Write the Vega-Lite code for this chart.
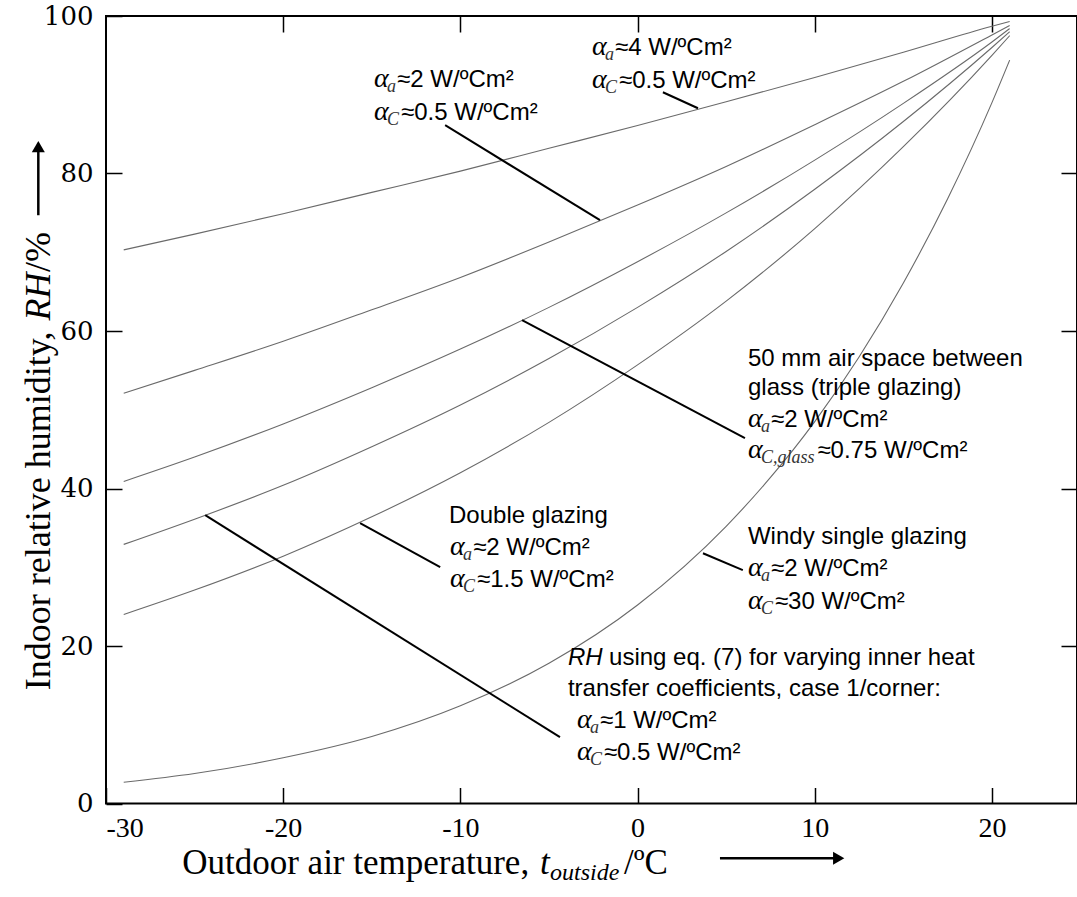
{
  "$schema": "https://vega.github.io/schema/vega-lite/v6.json",
  "width": 971,
  "height": 787.5,
  "autosize": {"type": "none"},
  "padding": {"left": 106, "top": 16, "right": 0, "bottom": 94},
  "background": "white",
  "config": {"view": {"stroke": "black", "strokeWidth": 2}},
  "datasets": {
    "curves": [
      {"c": "c1", "t": -29, "rh": 70.3}, {"c": "c1", "t": -25, "rh": 72.3}, {"c": "c1", "t": -20, "rh": 74.9}, {"c": "c1", "t": -15, "rh": 77.6}, {"c": "c1", "t": -10, "rh": 80.3}, {"c": "c1", "t": -5, "rh": 83.2}, {"c": "c1", "t": 0, "rh": 86.1}, {"c": "c1", "t": 5, "rh": 89.1}, {"c": "c1", "t": 10, "rh": 92.2}, {"c": "c1", "t": 15, "rh": 95.4}, {"c": "c1", "t": 20, "rh": 98.7}, {"c": "c1", "t": 21, "rh": 99.3},
      {"c": "c2", "t": -29, "rh": 52.1}, {"c": "c2", "t": -25, "rh": 55.0}, {"c": "c2", "t": -20, "rh": 58.7}, {"c": "c2", "t": -15, "rh": 62.7}, {"c": "c2", "t": -10, "rh": 66.8}, {"c": "c2", "t": -5, "rh": 71.3}, {"c": "c2", "t": 0, "rh": 76.0}, {"c": "c2", "t": 5, "rh": 80.9}, {"c": "c2", "t": 10, "rh": 86.2}, {"c": "c2", "t": 15, "rh": 91.7}, {"c": "c2", "t": 20, "rh": 97.6}, {"c": "c2", "t": 21, "rh": 98.8},
      {"c": "c3", "t": -29, "rh": 40.9}, {"c": "c3", "t": -25, "rh": 44.0}, {"c": "c3", "t": -20, "rh": 48.2}, {"c": "c3", "t": -15, "rh": 52.8}, {"c": "c3", "t": -10, "rh": 57.7}, {"c": "c3", "t": -5, "rh": 63.0}, {"c": "c3", "t": 0, "rh": 68.8}, {"c": "c3", "t": 5, "rh": 75.0}, {"c": "c3", "t": 10, "rh": 81.7}, {"c": "c3", "t": 15, "rh": 88.9}, {"c": "c3", "t": 20, "rh": 96.7}, {"c": "c3", "t": 21, "rh": 98.4},
      {"c": "c4", "t": -29, "rh": 32.9}, {"c": "c4", "t": -25, "rh": 36.1}, {"c": "c4", "t": -20, "rh": 40.4}, {"c": "c4", "t": -15, "rh": 45.3}, {"c": "c4", "t": -10, "rh": 50.6}, {"c": "c4", "t": -5, "rh": 56.5}, {"c": "c4", "t": 0, "rh": 63.0}, {"c": "c4", "t": 5, "rh": 70.1}, {"c": "c4", "t": 10, "rh": 78.0}, {"c": "c4", "t": 15, "rh": 86.6}, {"c": "c4", "t": 20, "rh": 96.0}, {"c": "c4", "t": 21, "rh": 98.0},
      {"c": "c5", "t": -29, "rh": 24.0}, {"c": "c5", "t": -25, "rh": 27.1}, {"c": "c5", "t": -20, "rh": 31.4}, {"c": "c5", "t": -15, "rh": 36.4}, {"c": "c5", "t": -10, "rh": 42.0}, {"c": "c5", "t": -5, "rh": 48.4}, {"c": "c5", "t": 0, "rh": 55.7}, {"c": "c5", "t": 5, "rh": 63.8}, {"c": "c5", "t": 10, "rh": 73.0}, {"c": "c5", "t": 15, "rh": 83.4}, {"c": "c5", "t": 20, "rh": 95.0}, {"c": "c5", "t": 21, "rh": 97.5},
      {"c": "c6", "t": -29, "rh": 2.7}, {"c": "c6", "t": -25, "rh": 3.8}, {"c": "c6", "t": -20, "rh": 5.8}, {"c": "c6", "t": -15, "rh": 8.5}, {"c": "c6", "t": -10, "rh": 12.4}, {"c": "c6", "t": -5, "rh": 17.8}, {"c": "c6", "t": 0, "rh": 25.2}, {"c": "c6", "t": 5, "rh": 35.2}, {"c": "c6", "t": 7.5, "rh": 41.4}, {"c": "c6", "t": 10, "rh": 48.5}, {"c": "c6", "t": 12.5, "rh": 56.7}, {"c": "c6", "t": 15, "rh": 66.1}, {"c": "c6", "t": 17.5, "rh": 76.8}, {"c": "c6", "t": 20, "rh": 89.0}, {"c": "c6", "t": 21, "rh": 94.4}
    ],
    "leaders": [
      {"t1": 1.43, "rh1": 90.32, "t2": 3.41, "rh2": 88.29},
      {"t1": -10.86, "rh1": 86.13, "t2": -2.12, "rh2": 74.07},
      {"t1": -6.52, "rh1": 61.37, "t2": 6.06, "rh2": 46.39},
      {"t1": 3.69, "rh1": 31.78, "t2": 5.94, "rh2": 29.63},
      {"t1": -15.66, "rh1": 35.59, "t2": -11.14, "rh2": 30.01},
      {"t1": -24.40, "rh1": 36.61, "t2": -4.38, "rh2": 8.42}
    ],
    "plain": [
      {"t": -1.27, "rh": 95.02, "text": "≈4 W/ºCm²"},
      {"t": -1.05, "rh": 90.83, "text": "≈0.5 W/ºCm²"},
      {"t": -13.57, "rh": 90.96, "text": "≈2 W/ºCm²"},
      {"t": -13.35, "rh": 86.77, "text": "≈0.5 W/ºCm²"},
      {"t": 6.23, "rh": 55.53, "text": "50 mm air space between"},
      {"t": 6.23, "rh": 51.85, "text": "glass (triple glazing)"},
      {"t": 7.53, "rh": 47.78, "text": "≈2 W/ºCm²"},
      {"t": 10.15, "rh": 43.85, "text": "≈0.75 W/ºCm²"},
      {"t": 6.23, "rh": 32.93, "text": "Windy single glazing"},
      {"t": 7.53, "rh": 28.86, "text": "≈2 W/ºCm²"},
      {"t": 7.75, "rh": 24.67, "text": "≈30 W/ºCm²"},
      {"t": -10.64, "rh": 35.59, "text": "Double glazing"},
      {"t": -9.28, "rh": 31.53, "text": "≈2 W/ºCm²"},
      {"t": -9.06, "rh": 27.47, "text": "≈1.5 W/ºCm²"},
      {"t": -1.61, "rh": 17.56, "text": "using eq. (7) for varying inner heat"},
      {"t": -3.93, "rh": 13.63, "text": "transfer coefficients, case 1/corner:"},
      {"t": -2.12, "rh": 9.56, "text": "≈1 W/ºCm²"},
      {"t": -1.90, "rh": 5.50, "text": "≈0.5 W/ºCm²"}
    ],
    "alpha": [
      {"t": -2.57, "rh": 95.02}, {"t": -2.57, "rh": 90.83},
      {"t": -14.87, "rh": 90.96}, {"t": -14.87, "rh": 86.77},
      {"t": 6.23, "rh": 47.78}, {"t": 6.23, "rh": 43.85},
      {"t": 6.23, "rh": 28.86}, {"t": 6.23, "rh": 24.67},
      {"t": -10.58, "rh": 31.53}, {"t": -10.58, "rh": 27.47},
      {"t": -3.42, "rh": 9.56}, {"t": -3.42, "rh": 5.50}
    ],
    "subs": [
      {"t": -1.84, "rh": 94.42, "text": "a"}, {"t": -1.84, "rh": 90.23, "text": "C"},
      {"t": -14.14, "rh": 90.36, "text": "a"}, {"t": -14.14, "rh": 86.17, "text": "C"},
      {"t": 6.96, "rh": 47.18, "text": "a"}, {"t": 6.96, "rh": 43.25, "text": "C,glass"},
      {"t": 6.96, "rh": 28.26, "text": "a"}, {"t": 6.96, "rh": 24.07, "text": "C"},
      {"t": -9.85, "rh": 30.93, "text": "a"}, {"t": -9.85, "rh": 26.87, "text": "C"},
      {"t": -2.69, "rh": 8.96, "text": "a"}, {"t": -2.69, "rh": 4.90, "text": "C"}
    ],
    "italicSans": [{"t": -3.93, "rh": 17.56, "text": "RH"}],
    "xtitle": [
      {"t": -25.70, "rh": -8.95, "text": "Outdoor air temperature,"},
      {"t": -0.77, "rh": -8.95, "text": "/ºC"}
    ],
    "xtitleItalic": [{"t": -5.50, "rh": -8.95, "text": "t"}],
    "xtitleSub": [{"t": -4.94, "rh": -9.70, "text": "outside"}],
    "ytitle": [
      {"t": -33.14, "rh": 14.39, "text": "Indoor relative humidity,"},
      {"t": -33.14, "rh": 67.49, "text": "/%"}
    ],
    "ytitleItalic": [{"t": -33.14, "rh": 61.33, "text": "RH"}],
    "arrows": [
      {"t1": 4.65, "rh1": -6.95, "t2": 11.2, "rh2": -6.95},
      {"t1": -33.82, "rh1": 74.70, "t2": -33.82, "rh2": 82.8}
    ],
    "heads": [
      {"t": 11.35, "rh": -6.95, "dir": "right"},
      {"t": -33.82, "rh": 83.4, "dir": "up"}
    ]
  },
  "resolve": {"axis": {"x": "independent", "y": "independent"}},
  "layer": [
    {
      "data": {"name": "curves"},
      "mark": {"type": "line", "interpolate": "monotone", "stroke": "#6a6a6a", "strokeWidth": 1.1},
      "encoding": {
        "x": {"field": "t", "type": "quantitative", "scale": {"domain": [-30, 24.8], "nice": false, "zero": false},
          "axis": {"orient": "bottom", "values": [-30, -20, -10, 0, 10, 20], "labelExpr": "datum.value < 0 ? '-' + abs(datum.value) : '' + datum.value", "title": null, "domain": false, "grid": false, "tickSize": -16, "tickWidth": 1.5, "tickColor": "black", "labelPadding": 27, "labelFont": "Liberation Serif", "labelFontSize": 28, "labelColor": "black", "labelFlush": true}},
        "y": {"field": "rh", "type": "quantitative", "scale": {"domain": [0, 100], "nice": false, "zero": false},
          "axis": {"orient": "left", "values": [0, 20, 40, 60, 80, 100], "title": null, "domain": false, "grid": false, "tickSize": -16, "tickWidth": 1.5, "tickColor": "black", "labelPadding": 29, "labelFont": "DejaVu Serif", "labelFontSize": 26, "labelColor": "black", "labelFlush": false}},
        "detail": {"field": "c"}
      }
    },
    {
      "data": {"name": "leaders"},
      "mark": {"type": "rule", "stroke": "black", "strokeWidth": 2},
      "encoding": {
        "x": {"field": "t1", "type": "quantitative", "scale": {"domain": [-30, 24.8], "nice": false, "zero": false},
          "axis": {"orient": "top", "values": [-20, -10, 0, 10, 20], "labels": false, "title": null, "domain": false, "grid": false, "tickSize": -16, "tickWidth": 1.5, "tickColor": "black"}},
        "y": {"field": "rh1", "type": "quantitative", "scale": {"domain": [0, 100], "nice": false, "zero": false},
          "axis": {"orient": "right", "values": [20, 40, 60, 80], "labels": false, "title": null, "domain": false, "grid": false, "tickSize": -16, "tickWidth": 1.5, "tickColor": "black"}},
        "x2": {"field": "t2"},
        "y2": {"field": "rh2"}
      }
    },
    {
      "data": {"name": "plain"},
      "mark": {"type": "text", "align": "left", "baseline": "alphabetic", "font": "Liberation Sans", "fontSize": 24, "color": "black"},
      "encoding": {
        "x": {"field": "t", "type": "quantitative", "scale": {"domain": [-30, 24.8], "nice": false, "zero": false}, "axis": null},
        "y": {"field": "rh", "type": "quantitative", "scale": {"domain": [0, 100], "nice": false, "zero": false}, "axis": null},
        "text": {"field": "text"}
      }
    },
    {
      "data": {"name": "alpha"},
      "mark": {"type": "text", "align": "left", "baseline": "alphabetic", "font": "Liberation Serif", "fontStyle": "italic", "fontSize": 28, "color": "black", "text": "α"},
      "encoding": {
        "x": {"field": "t", "type": "quantitative", "scale": {"domain": [-30, 24.8], "nice": false, "zero": false}, "axis": null},
        "y": {"field": "rh", "type": "quantitative", "scale": {"domain": [0, 100], "nice": false, "zero": false}, "axis": null}
      }
    },
    {
      "data": {"name": "subs"},
      "mark": {"type": "text", "align": "left", "baseline": "alphabetic", "font": "Liberation Serif", "fontStyle": "italic", "fontSize": 18, "color": "#333"},
      "encoding": {
        "x": {"field": "t", "type": "quantitative", "scale": {"domain": [-30, 24.8], "nice": false, "zero": false}, "axis": null},
        "y": {"field": "rh", "type": "quantitative", "scale": {"domain": [0, 100], "nice": false, "zero": false}, "axis": null},
        "text": {"field": "text"}
      }
    },
    {
      "data": {"name": "italicSans"},
      "mark": {"type": "text", "align": "left", "baseline": "alphabetic", "font": "Liberation Sans", "fontStyle": "italic", "fontSize": 24, "color": "black"},
      "encoding": {
        "x": {"field": "t", "type": "quantitative", "scale": {"domain": [-30, 24.8], "nice": false, "zero": false}, "axis": null},
        "y": {"field": "rh", "type": "quantitative", "scale": {"domain": [0, 100], "nice": false, "zero": false}, "axis": null},
        "text": {"field": "text"}
      }
    },
    {
      "data": {"name": "xtitle"},
      "mark": {"type": "text", "align": "left", "baseline": "alphabetic", "font": "Liberation Serif", "fontSize": 35, "color": "black"},
      "encoding": {
        "x": {"field": "t", "type": "quantitative", "scale": {"domain": [-30, 24.8], "nice": false, "zero": false}, "axis": null},
        "y": {"field": "rh", "type": "quantitative", "scale": {"domain": [0, 100], "nice": false, "zero": false}, "axis": null},
        "text": {"field": "text"}
      }
    },
    {
      "data": {"name": "xtitleItalic"},
      "mark": {"type": "text", "align": "left", "baseline": "alphabetic", "font": "Liberation Serif", "fontStyle": "italic", "fontSize": 35, "color": "black"},
      "encoding": {
        "x": {"field": "t", "type": "quantitative", "scale": {"domain": [-30, 24.8], "nice": false, "zero": false}, "axis": null},
        "y": {"field": "rh", "type": "quantitative", "scale": {"domain": [0, 100], "nice": false, "zero": false}, "axis": null},
        "text": {"field": "text"}
      }
    },
    {
      "data": {"name": "xtitleSub"},
      "mark": {"type": "text", "align": "left", "baseline": "alphabetic", "font": "Liberation Serif", "fontStyle": "italic", "fontSize": 24, "color": "black"},
      "encoding": {
        "x": {"field": "t", "type": "quantitative", "scale": {"domain": [-30, 24.8], "nice": false, "zero": false}, "axis": null},
        "y": {"field": "rh", "type": "quantitative", "scale": {"domain": [0, 100], "nice": false, "zero": false}, "axis": null},
        "text": {"field": "text"}
      }
    },
    {
      "data": {"name": "ytitle"},
      "mark": {"type": "text", "align": "left", "baseline": "alphabetic", "angle": 270, "font": "Liberation Serif", "fontSize": 36, "color": "black"},
      "encoding": {
        "x": {"field": "t", "type": "quantitative", "scale": {"domain": [-30, 24.8], "nice": false, "zero": false}, "axis": null},
        "y": {"field": "rh", "type": "quantitative", "scale": {"domain": [0, 100], "nice": false, "zero": false}, "axis": null},
        "text": {"field": "text"}
      }
    },
    {
      "data": {"name": "ytitleItalic"},
      "mark": {"type": "text", "align": "left", "baseline": "alphabetic", "angle": 270, "font": "Liberation Serif", "fontStyle": "italic", "fontSize": 36, "color": "black"},
      "encoding": {
        "x": {"field": "t", "type": "quantitative", "scale": {"domain": [-30, 24.8], "nice": false, "zero": false}, "axis": null},
        "y": {"field": "rh", "type": "quantitative", "scale": {"domain": [0, 100], "nice": false, "zero": false}, "axis": null},
        "text": {"field": "text"}
      }
    },
    {
      "data": {"name": "arrows"},
      "mark": {"type": "rule", "stroke": "black", "strokeWidth": 2.5},
      "encoding": {
        "x": {"field": "t1", "type": "quantitative", "scale": {"domain": [-30, 24.8], "nice": false, "zero": false}, "axis": null},
        "y": {"field": "rh1", "type": "quantitative", "scale": {"domain": [0, 100], "nice": false, "zero": false}, "axis": null},
        "x2": {"field": "t2"},
        "y2": {"field": "rh2"}
      }
    },
    {
      "data": {"name": "heads"},
      "mark": {"type": "point", "filled": true, "color": "black", "size": 170, "opacity": 1},
      "encoding": {
        "x": {"field": "t", "type": "quantitative", "scale": {"domain": [-30, 24.8], "nice": false, "zero": false}, "axis": null},
        "y": {"field": "rh", "type": "quantitative", "scale": {"domain": [0, 100], "nice": false, "zero": false}, "axis": null},
        "shape": {"field": "dir", "type": "nominal", "scale": {"domain": ["right", "up"], "range": ["triangle-right", "triangle-up"]}, "legend": null}
      }
    }
  ]
}
